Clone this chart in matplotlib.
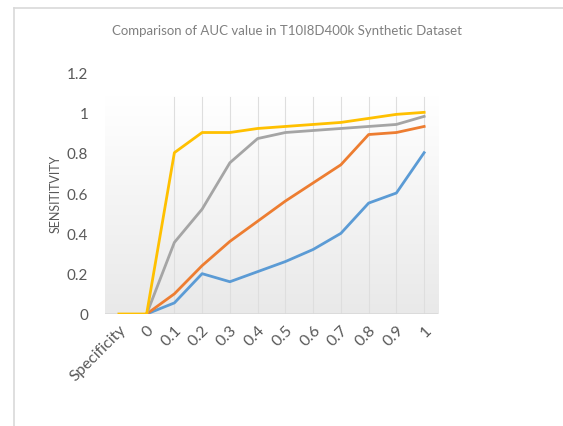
import matplotlib

matplotlib.use("Agg")
import matplotlib.pyplot as plt
import numpy as np
from matplotlib.lines import Line2D

categories = ["Specificity", "0", "0.1", "0.2", "0.3", "0.4", "0.5", "0.6", "0.7", "0.8", "0.9", "1"]
blue = [np.nan, 0, 0.055, 0.20, 0.16, 0.21, 0.26, 0.32, 0.40, 0.55, 0.60, 0.80]
orange = [np.nan, 0, 0.10, 0.24, 0.36, 0.46, 0.56, 0.65, 0.74, 0.89, 0.90, 0.93]
gray = [np.nan, 0, 0.355, 0.52, 0.75, 0.87, 0.90, 0.91, 0.92, 0.93, 0.94, 0.98]
yellow = [0, 0, 0.80, 0.90, 0.90, 0.92, 0.93, 0.94, 0.95, 0.97, 0.99, 1.00]
yticks = [0, 0.2, 0.4, 0.6, 0.8, 1, 1.2]
ytick_labels = ["0", "0.2", "0.4", "0.6", "0.8", "1", "1.2"]

plt.rcParams["font.family"] = ["Lato", "DejaVu Sans"]
text_color = "#595959"

fig = plt.figure(figsize=(5.63, 4.27), dpi=100)
ax = fig.add_axes([0.1865, 0.2623, 0.5915, 0.5667])

x = np.arange(len(categories))
xmin, xmax = -0.5, len(categories) - 0.5
plot_top = 1.077

# gradient background of the plot area
grad = np.linspace(0, 1, 256).reshape(-1, 1)
ax.imshow(grad, extent=[xmin, xmax, 0, plot_top], origin="lower", aspect="auto",
          cmap=matplotlib.colors.LinearSegmentedColormap.from_list("g", ["#e9e9e9", "#ffffff"]),
          zorder=0)
for xi in x[2:]:
    ax.plot([xi, xi], [0, plot_top], color="#dedede", linewidth=0.8, zorder=1)
ax.axhline(0, color="#d9d9d9", linewidth=1.2, zorder=1)

for series, color in [(blue, "#5B9BD5"), (orange, "#ED7D31"), (gray, "#A5A5A5"), (yellow, "#FFC000")]:
    ax.plot(x, series, color=color, linewidth=2.0, solid_joinstyle="round", zorder=3)

ax.set_xlim(xmin, xmax)
ax.set_ylim(0, 1.2)
ax.set_yticks(yticks)
ax.set_yticklabels(ytick_labels, fontsize=11, color=text_color)
ax.set_xticks(x)
ax.set_xticklabels(categories, rotation=45, ha="right", rotation_mode="anchor",
                   fontsize=11.5, color=text_color)
ax.tick_params(length=0, pad=12)
ax.tick_params(axis="x", pad=6)
for spine in ax.spines.values():
    spine.set_visible(False)

ax.set_ylabel("SENSITITVITY", fontsize=9, color=text_color, labelpad=4)
fig.text(0.51, 0.928, "Comparison of AUC value in T10I8D400k Synthetic Dataset",
         ha="center", va="center", fontsize=9.5, color="#808080")

# outer border (left and top)
fig.add_artist(Line2D([13.5 / 563, 13.5 / 563], [0, 1 - 8.5 / 427], color="#d9d9d9", linewidth=1.2))
fig.add_artist(Line2D([13.5 / 563, 1], [1 - 8.5 / 427, 1 - 8.5 / 427], color="#d9d9d9", linewidth=1.2))

fig.savefig("out.png", dpi=100)
plt.close(fig)
